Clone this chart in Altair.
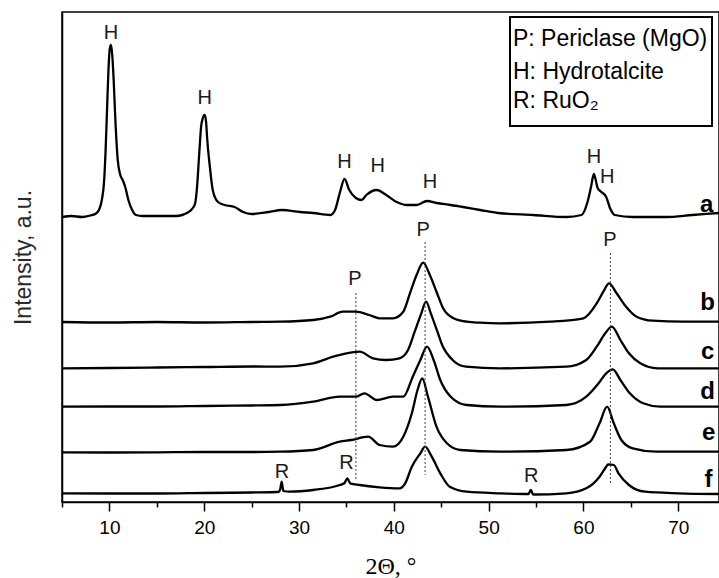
import altair as alt
import pandas as pd

# ---- XRD patterns (2θ in degrees, intensity in a.u. with stacking offsets) ----
a_x = [5.0, 6.0, 7.1, 8.0, 8.5, 8.9, 9.2, 9.45, 9.6, 9.75, 9.9, 10.05, 10.17, 10.3, 10.45, 10.63, 10.88,
       11.15, 11.4, 11.7, 12.0, 12.4, 12.8, 13.5, 15.0, 17.0, 18.36, 18.8, 19.05, 19.2, 19.5, 19.67, 19.85,
       20.05, 20.2, 20.3, 20.6, 20.9, 21.45, 22.15, 23.2, 24.1, 25.0, 26.8, 28.2, 30.1, 31.5, 33.3, 33.8,
       34.3, 34.8, 35.3, 36.0, 36.6, 37.1, 38.2, 39.2, 40.3, 41.4, 42.4, 43.5, 44.5, 46.0, 47.3, 49.1, 51.0,
       54.7, 58.2, 59.8, 60.4, 60.8, 61.1, 61.5, 61.9, 62.4, 62.8, 63.3, 65.2, 68.7, 71.5, 74.3]
a_y = [285, 286, 285, 286.5, 288, 292, 302, 322, 352, 392, 432, 454, 457, 447, 422, 382, 342,
       327, 322, 314, 302, 292, 287, 286, 286, 286, 290, 294, 299, 310, 352, 375, 384,
       387, 380, 365, 335, 312, 300, 297, 295, 290, 288, 290, 292, 290, 289, 287, 292,
       309, 323, 312, 304, 302, 307, 312, 307, 300, 297, 297, 301, 299, 297, 295, 292, 289,
       287, 285, 287, 299, 315, 328, 314, 310, 305, 294, 287, 285, 285, 287, 289]

b_x = [5, 10, 15, 20, 25, 28, 31.5, 33.3, 34.6, 36.0, 37.4, 38.5, 39.9, 41.0, 41.7, 42.4, 43.1, 43.8,
       44.5, 45.2, 46.3, 47.7, 49.1, 51.2, 56.5, 60.0, 61.4, 62.1, 62.7, 63.5, 64.5, 65.6, 67.3, 70.5, 74.3]
b_y = [180, 179.5, 180, 179.5, 180, 180.3, 182, 185.3, 190.3, 190.3, 187, 183.7, 183.7, 190.3, 208.7,
       227, 239.3, 227, 210.3, 193.7, 183.7, 180.3, 179.3, 178.7, 180.3, 183.7, 198.7, 210.3, 218.7,
       208.7, 195.3, 185.3, 181.3, 180.3, 180.3]

c_x = [5, 10, 15, 20, 25, 28, 31.5, 33.6, 35.0, 36.4, 37.8, 39.2, 40.6, 41.5, 42.2, 42.9, 43.4, 43.9,
       44.6, 45.1, 46.2, 47.6, 51.2, 58.2, 60.3, 61.4, 62.3, 63.0, 63.9, 64.8, 66.0, 67.8, 70.9, 74.3]
c_y = [133.7, 134, 134.5, 135, 135.5, 135.3, 138.7, 145.3, 148.7, 150.3, 143.7, 142, 143.7, 152, 170.3,
       188.7, 200.3, 188.7, 170.3, 157, 142, 135.3, 133.7, 135.3, 142, 155.3, 168.7, 175.3, 162, 148.7,
       138.7, 133.7, 133.7, 133.7]

d_x = [5, 10, 15, 20, 25, 28, 31.5, 34.3, 36.0, 36.9, 38.2, 39.9, 41.0, 42.0, 42.8, 43.5, 44.2, 44.9,
       46.0, 47.7, 51.2, 58.2, 60.3, 61.6, 62.4, 63.1, 63.9, 64.9, 66.3, 68.1, 74.3]
d_y = [95.3, 95.5, 95.5, 96, 96.5, 97, 100.3, 105.3, 105.3, 108.7, 102, 105.3, 105.3, 125.3, 142, 155.3,
       142, 122, 105.3, 97, 95.3, 97, 105.3, 118.7, 128.7, 132.7, 122, 108.7, 98.7, 95.3, 95.3]

e_x = [5, 10, 15, 20, 25, 28, 31.5, 34.3, 35.5, 37.3, 38.5, 39.9, 41.0, 41.9, 42.5, 43.0, 43.6, 44.5,
       45.6, 47.0, 51.2, 58.2, 60.7, 61.7, 62.5, 63.2, 64.0, 65.2, 67.7, 74.3]
e_y = [49.7, 49.5, 49.7, 50, 50, 50.3, 52, 60.3, 62, 65.3, 57, 55.3, 65.3, 88.7, 112, 123.7, 105.3, 75.3,
       58.7, 52, 50.3, 52, 60.3, 78.7, 95.3, 78.7, 62, 53.7, 50.3, 50.3]

f_x = [5, 10, 15, 20, 25, 27.8, 28.0, 28.17, 28.35, 29.0, 31.5, 34.3, 34.8, 35.1, 35.4, 36.4, 38.5,
       40.6, 41.2, 41.9, 42.8, 43.3, 44.0, 44.9, 45.9, 47.7, 51.2, 54.2, 54.45, 54.7, 58.2, 60.3, 61.7,
       62.4, 62.6, 63.2, 63.7, 64.8, 66.5, 70.0, 74.3]
f_y = [8.7, 8.5, 8.5, 9, 9.5, 10, 12, 20.3, 11, 10.3, 12, 17, 19, 23.7, 18.7, 17, 14.7,
       13.7, 18.7, 35.3, 48.7, 55.3, 45.3, 28.7, 15.3, 10.3, 8.7, 8, 12, 7.5, 8.7, 13.7, 25.3,
       35.3, 37.7, 37, 28.7, 17, 10.3, 8.7, 8]

curve_names = ["a", "b", "c", "d", "e", "f"]
curve_x = [a_x, b_x, c_x, d_x, e_x, f_x]
curve_y = [a_y, b_y, c_y, d_y, e_y, f_y]

# phase labels
peak_text = ["H", "H", "H", "H", "H", "H", "H", "P", "P", "P", "R", "R", "R"]
peak_x = [10.17, 20.05, 34.8, 38.3, 43.8, 61.1, 62.5, 35.9, 43.1, 62.8, 28.2, 35.0, 54.5]
peak_y = [469, 404.5, 340, 336, 320, 345, 325, 223, 272, 262, 30, 39, 26]

# sample letters
letter_x = [73.0, 73.1, 73.1, 73.1, 73.2, 73.2]
letter_y = [297, 199, 150, 110, 69, 22]

# dotted reference lines for periclase reflections
ref_x = [36.0, 43.3, 62.85]
ref_top = [209, 260, 249]
ref_bottom = [22, 27, 19]

legend_lines = ["P: Periclase (MgO)", "H: Hydrotalcite", "R: RuO\u2082"]

x_ticks = [5, 10, 15, 20, 25, 30, 35, 40, 45, 50, 55, 60, 65, 70]

# ---- build tables ----
rows = []
for name, xs, ys in zip(curve_names, curve_x, curve_y):
    for xv, yv in zip(xs, ys):
        rows.append({"curve": name, "two_theta": xv, "intensity": yv})
df = pd.DataFrame(rows)

peaks = pd.DataFrame({"two_theta": peak_x, "intensity": peak_y, "label": peak_text})
letters = pd.DataFrame({"two_theta": letter_x, "intensity": letter_y, "label": curve_names})
refs = pd.DataFrame({"two_theta": ref_x, "top": ref_top, "bottom": ref_bottom})

FONT = "Liberation Sans"

xscale = alt.Scale(domain=[5, 74.3], nice=False, zero=False)
yscale = alt.Scale(domain=[0, 490], nice=False, zero=False)

x_axis = alt.Axis(
    values=x_ticks,
    labelExpr="datum.value % 10 === 0 ? datum.label : ''",
    tickSize={"condition": {"test": "datum.value % 10 === 0", "value": 9}, "value": 5},
    tickColor="black", tickWidth=1.5,
    domainColor="black", domainWidth=1.5,
    labelFont=FONT, labelFontSize=19, labelColor="black", labelPadding=7,
    title="2\u0398, \u00b0", titleFont="Liberation Serif", titleFontSize=24,
    titleFontWeight="normal", titleColor="black", titlePadding=17,
    grid=False, labelFlush=False,
)
y_axis = alt.Axis(
    ticks=False, labels=False, grid=False,
    domainColor="black", domainWidth=1.5,
    title="Intensity, a.u.", titleFont=FONT, titleFontSize=23,
    titleFontWeight="normal", titleColor="#2a2a2a", titlePadding=27,
)

lines = alt.Chart(df).mark_line(
    color="black", strokeWidth=2.3, interpolate="monotone", clip=True
).encode(
    x=alt.X("two_theta:Q", scale=xscale, axis=x_axis),
    y=alt.Y("intensity:Q", scale=yscale, axis=y_axis),
    detail="curve:N",
    order="two_theta:Q",
)

refs_chart = alt.Chart(refs).mark_rule(
    color="#444444", strokeWidth=1, strokeDash=[2, 2]
).encode(
    x=alt.X("two_theta:Q", scale=xscale, axis=x_axis),
    y=alt.Y("top:Q", scale=yscale, axis=y_axis),
    y2="bottom:Q",
)

peak_labels = alt.Chart(peaks).mark_text(
    font=FONT, fontSize=20, color="#1a1a1a", align="center", baseline="middle"
).encode(
    x=alt.X("two_theta:Q", scale=xscale, axis=x_axis),
    y=alt.Y("intensity:Q", scale=yscale, axis=y_axis),
    text="label:N",
)

letter_labels = alt.Chart(letters).mark_text(
    font=FONT, fontSize=24, fontWeight="bold", color="black", align="center", baseline="middle"
).encode(
    x=alt.X("two_theta:Q", scale=xscale, axis=x_axis),
    y=alt.Y("intensity:Q", scale=yscale, axis=y_axis),
    text="label:N",
)

box = alt.Chart(pd.DataFrame({"k": [0]})).mark_rect(
    fill="white", stroke="black", strokeWidth=2
).encode(
    x=alt.value(448), x2=alt.value(650), y=alt.value(5), y2=alt.value(114)
)

legend_layers = []
for txt, ypos in zip(legend_lines, [27, 60, 89]):
    legend_layers.append(
        alt.Chart(pd.DataFrame({"label": [txt]})).mark_text(
            font=FONT, fontSize=23, color="black", align="left", baseline="middle"
        ).encode(x=alt.value(451), y=alt.value(ypos), text="label:N")
    )

chart = alt.layer(lines, refs_chart, peak_labels, letter_labels, box, *legend_layers).properties(
    width=657,
    height=490,
    padding={"left": 62, "top": 12, "right": 0, "bottom": 76},
    autosize=alt.AutoSizeParams(type="none"),
    background="white",
).configure_view(
    stroke="black", strokeWidth=1.5
)

chart.save("out.html", embed_options={"renderer": "svg", "actions": False})
